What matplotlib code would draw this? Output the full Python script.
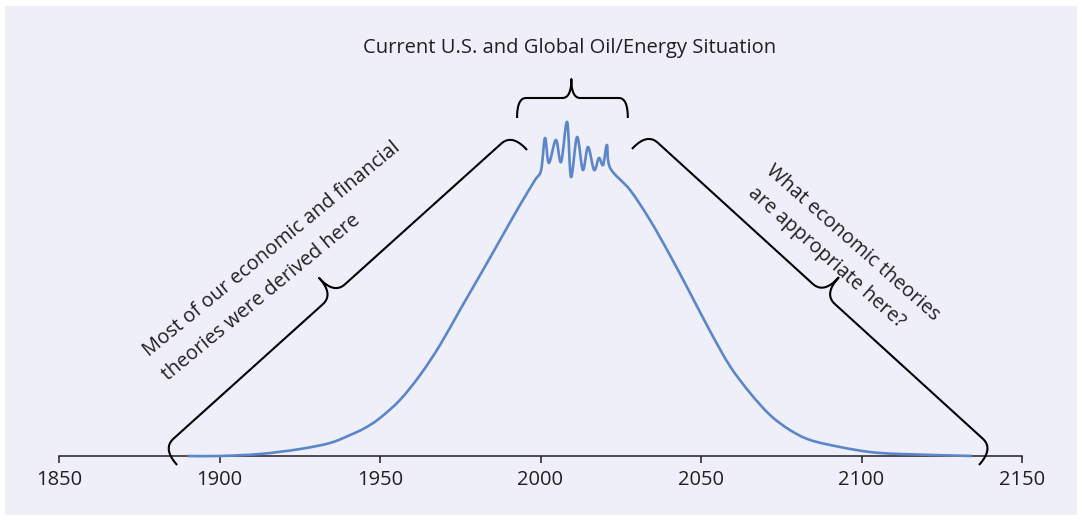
import numpy as np
import matplotlib
matplotlib.use("Agg")
from matplotlib import pyplot as plt
from matplotlib.patches import Rectangle, PathPatch
from matplotlib.path import Path

# oil production curve (arbitrary units)
years = [1890, 1900, 1912.6, 1925.1, 1934.4, 1940.7, 1945.3, 1950, 1956.2,
         1962.5, 1968.7, 1974.9, 1981.2, 1987.4, 1993.6, 1998.3, 2000.2,
         2001.4, 2002.6, 2004.8, 2006.4, 2008.3, 2009.5, 2011.4, 2013.2,
         2014.8, 2016.7, 2018.2, 2019.5, 2020.7, 2021.7, 2027.9, 2034.1,
         2040.3, 2046.6, 2052.8, 2059.0, 2065.3, 2071.5, 2077.7, 2084.0,
         2093.3, 2102.6, 2112.0, 2134.4]
level = [0, 0, 2, 7, 13, 21, 28, 38, 56,
         81, 111, 146, 181, 216, 251, 276, 286,
         318, 293, 316, 294, 334, 279, 319, 286,
         309, 286, 298, 291, 311, 288, 266, 236,
         201, 163, 125, 90, 63, 41, 26, 16,
         9, 4, 2, 0]

xticks = [1850, 1900, 1950, 2000, 2050, 2100, 2150]

title = "Current U.S. and Global Oil/Energy Situation"
left_note = ["Most of our economic and financial", "theories were derived here"]
right_note = ["What economic theories", "are appropriate here?"]

W, H = 1082, 520
fig = plt.figure(figsize=(W / 100, H / 100), dpi=100)
fig.patch.set_facecolor("white")
fig.patches.append(Rectangle((5 / W, 5 / H), 1 - 10 / W, 1 - 11 / H,
                             transform=fig.transFigure, facecolor="#efeffa",
                             edgecolor="none", zorder=-10))

ax = fig.add_axes([59 / W, 64 / H, 963 / W, 380 / H])
ax.set_zorder(1)
ax.set_facecolor("none")
ax.set_xlim(1850, 2150)
ax.set_ylim(0, 380)

font = "Open Sans"
ink = "#231f20"

# smooth line through the read points (Catmull-Rom drawn as Bezier segments)
P = np.column_stack([years, level])
Pp = np.vstack([P[:1], P, P[-1:]])
verts = [P[0]]
codes = [Path.MOVETO]
for i in range(len(P) - 1):
    c1 = Pp[i + 1] + (Pp[i + 2] - Pp[i]) / 6
    c2 = Pp[i + 2] - (Pp[i + 3] - Pp[i + 1]) / 6
    verts += [c1, c2, P[i + 1]]
    codes += [Path.CURVE4] * 3
ax.add_patch(PathPatch(Path(verts, codes), fill=False, edgecolor="#5b86c9",
                       lw=1.9, joinstyle="round", clip_on=False, zorder=3))

for s in ["top", "right", "left"]:
    ax.spines[s].set_visible(False)
ax.spines["bottom"].set_linewidth(1.1)
ax.spines["bottom"].set_color(ink)
ax.set_yticks([])
ax.set_xticks(xticks)
ax.tick_params(axis="x", direction="out", length=5, width=1.1, pad=5,
               labelsize=14.5, labelcolor=ink, color=ink)
for lab in ax.get_xticklabels():
    lab.set_family(font)


def brace(p0, p1, h, tip, t=0.5, r=10, side=1):
    # curly brace drawn in pixel space between two data points
    a = ax.transData.transform(p0)
    b = ax.transData.transform(p1)
    d = b - a
    L = np.hypot(*d)
    u = d / L
    n = np.array([-u[1], u[0]]) * side
    tc = t * L

    def quad(q0, c, q1, k=20):
        s = np.linspace(0, 1, k)[:, None]
        return (1 - s) ** 2 * q0 + 2 * s * (1 - s) * c + s ** 2 * q1

    pts = [quad(np.array([0, 0]), np.array([0, h]), np.array([r, h])),
           quad(np.array([tc - r, h]), np.array([tc, h]), np.array([tc, h + tip])),
           quad(np.array([tc, h + tip]), np.array([tc, h]), np.array([tc + r, h])),
           quad(np.array([L - r, h]), np.array([L, h]), np.array([L, 0]))]
    loc = np.vstack(pts)
    xy = a + loc[:, :1] * u + loc[:, 1:] * n
    dat = ax.transData.inverted().transform(xy)
    ax.plot(dat[:, 0], dat[:, 1], color="black", lw=1.5, clip_on=False,
            solid_capstyle="butt", zorder=4)


fig.canvas.draw()
brace((1992.7, 338), (2027.2, 338), 20, 19, t=0.49, r=9)
brace((1886.8, -9), (1995.8, 306), 22, 22, t=0.49, r=15)
brace((2028.5, 307), (2136.6, -9), 22, 22, t=0.51, r=15)

ax.text(2009.2, 408, title, ha="center", va="center", fontsize=14.5,
        family=font, color=ink, clip_on=False)

# rotated notes, one line at a time, left aligned on the baseline
for txt, x, y in zip(left_note, [1878.0, 1884.0], [99, 75]):
    ax.text(x, y, txt, ha="left", va="baseline", rotation=39.5,
            rotation_mode="anchor", fontsize=14.3, family=font, color=ink,
            clip_on=False)
for txt, x, y in zip(right_note, [2070.0, 2064.3], [284, 262]):
    ax.text(x, y, txt, ha="left", va="baseline", rotation=-41.5,
            rotation_mode="anchor", fontsize=14.3, family=font, color=ink,
            clip_on=False)

fig.savefig("out.png", dpi=100)
